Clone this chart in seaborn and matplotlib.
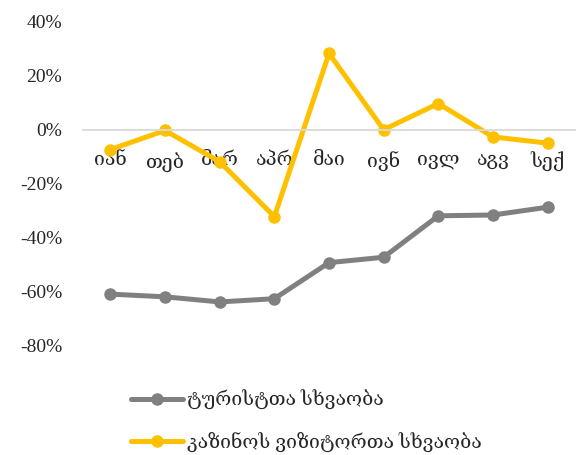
import pandas as pd
import seaborn as sns
import matplotlib.pyplot as plt
from matplotlib.ticker import FuncFormatter, FixedLocator


months = ["იან", "თებ", "მარ", "აპრ", "მაი", "ივნ", "ივლ", "აგვ", "სექ"]
tourists = [-61.1, -62.1, -64.0, -62.8, -49.4, -47.4, -32.0, -31.7, -28.8]
casino = [-7.4, -0.3, -11.9, -32.3, 28.3, 0.0, 9.7, -2.7, -5.0]
series_names = ["ტურისტთა სხვაობა", "კაზინოს ვიზიტორთა სხვაობა"]
colors = ["#808080", "#FFC000"]


def make_plot(filename):
    sns.set_style("white")
    plt.rcParams["font.family"] = ["Liberation Serif", "DejaVu Serif", "DejaVu Sans"]
    plt.rcParams["font.size"] = 14

    data = pd.DataFrame({
        "month": months * 2,
        "value": tourists + casino,
        "series": [series_names[0]] * len(months) + [series_names[1]] * len(months),
    })

    fig = plt.figure(figsize=(5.78, 4.55), dpi=100)
    ax = fig.add_axes([83 / 578, 1 - 345 / 455, 492 / 578, 323 / 455])
    sns.lineplot(data=data, x="month", y="value", hue="series", palette=colors,
                 marker="o", markersize=9, markeredgewidth=0, linewidth=3.6,
                 sort=False, ax=ax, legend=False)

    ax.set_xlim(-0.5, len(months) - 0.5)
    ax.set_ylim(-80, 40)
    ax.set_yticks(range(-80, 41, 20))
    ax.yaxis.set_major_formatter(FuncFormatter(lambda v, p: f"{v:.0f}%"))
    ax.tick_params(axis="y", length=0, pad=15, labelsize=14)

    for s in ["top", "right", "left"]:
        ax.spines[s].set_visible(False)
    ax.spines["bottom"].set_position(("data", 0))
    ax.spines["bottom"].set_color("#D9D9D9")
    ax.spines["bottom"].set_linewidth(1.3)

    ax.set_xticks(range(len(months)))
    ax.set_xticklabels(months)
    ax.tick_params(axis="x", which="major", length=0, pad=16, labelsize=14)
    ax.xaxis.set_minor_locator(FixedLocator([i - 0.5 for i in range(len(months) + 1)]))
    ax.tick_params(axis="x", which="minor", length=6, width=1.3, color="#D9D9D9", direction="out")
    ax.set_xlabel("")
    ax.set_ylabel("")

    handles = [plt.Line2D([], [], color=c, linewidth=3.6, marker="o", markersize=9,
                          markeredgewidth=0) for c in colors]
    fig.legend(handles, series_names, loc="upper left", bbox_to_anchor=(113 / 578, 1 - 372 / 455),
               frameon=False, handlelength=2.7, handletextpad=0.2, labelspacing=1.15, fontsize=14)

    plt.savefig(filename, dpi=100)


make_plot("out.png")
